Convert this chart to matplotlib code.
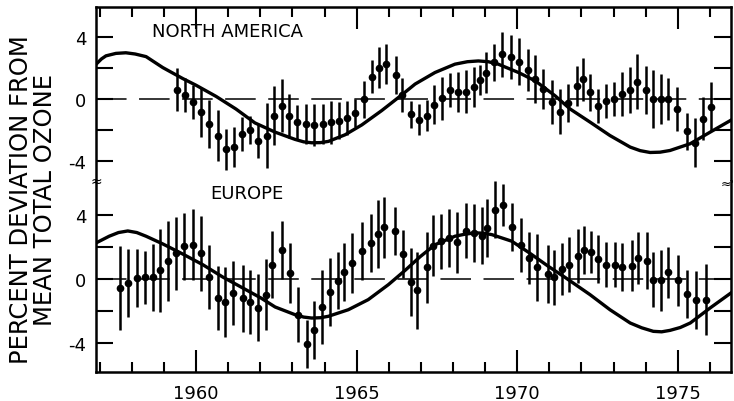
import matplotlib
matplotlib.use('Agg')
import matplotlib.pyplot as plt
from matplotlib.ticker import MultipleLocator

# ---- values ----
# North America: quarterly means with error bars
na_years = [1959.39, 1959.66, 1959.90, 1960.15, 1960.41, 1960.69, 1960.93, 1961.19,
            1961.42, 1961.68, 1961.92, 1962.20, 1962.43, 1962.67, 1962.89, 1963.15,
            1963.41, 1963.67, 1963.94, 1964.19, 1964.44, 1964.71, 1964.95, 1965.24,
            1965.47, 1965.70, 1965.90, 1966.22, 1966.40, 1966.68, 1966.93, 1967.18,
            1967.42, 1967.67, 1967.91, 1968.15, 1968.40, 1968.66, 1968.84, 1969.03,
            1969.28, 1969.54, 1969.80, 1970.06, 1970.33, 1970.56, 1970.81, 1971.09,
            1971.33, 1971.59, 1971.85, 1972.04, 1972.27, 1972.51, 1972.77, 1973.02,
            1973.26, 1973.52, 1973.72, 1974.01, 1974.24, 1974.47, 1974.71, 1974.99,
            1975.28, 1975.54, 1975.78, 1976.04]
na_dev = [0.6, 0.26, -0.17, -0.86, -1.6, -2.37, -3.27, -3.1,
          -2.26, -2.0, -2.75, -2.37, -1.08, -0.43, -1.1, -1.5,
          -1.65, -1.68, -1.6, -1.5, -1.42, -1.25, -0.92, 0.0,
          1.46, 2.04, 2.3, 1.55, 0.26, -1.0, -1.35, -1.08,
          -0.37, 0.04, 0.58, 0.43, 0.47, 0.75, 1.23, 1.72,
          2.37, 2.9, 2.73, 2.43, 1.9, 1.29, 0.65, -0.2,
          -0.82, -0.26, 0.86, 1.29, 0.43, -0.47, -0.15, 0.0,
          0.32, 0.6, 1.12, 0.6, 0.0, 0.0, 0.0, -0.65,
          -2.1, -2.84, -1.29, -0.5]
na_err = [1.4, 1.1, 1.1, 1.6, 1.55, 1.65, 1.35, 1.3,
          1.1, 0.9, 1.1, 2.1, 1.9, 1.7, 1.4, 1.1,
          1.3, 1.35, 1.3, 1.4, 1.2, 1.1, 0.9, 1.2,
          1.1, 1.35, 1.3, 1.25, 1.1, 0.9, 1.0, 1.0,
          1.25, 1.4, 1.1, 1.3, 1.4, 1.3, 1.0, 1.3,
          1.2, 1.45, 1.4, 1.55, 1.35, 1.55, 1.3, 1.45,
          1.45, 1.25, 1.3, 1.4, 1.2, 1.1, 1.1, 1.1,
          1.45, 1.5, 1.8, 1.55, 1.9, 1.6, 1.35, 1.4,
          1.2, 1.6, 1.4, 1.6]
na_fit_years = [1956.88, 1957.05, 1957.19, 1957.50, 1957.81, 1958.10, 1958.44, 1958.96,
                1959.58, 1959.99, 1960.62, 1961.24, 1961.83, 1962.46, 1963.08, 1963.35,
                1963.60, 1963.87, 1964.12, 1964.64, 1965.16, 1965.78, 1966.40, 1966.82,
                1967.44, 1968.06, 1968.45, 1968.79, 1969.10, 1969.41, 1970.04, 1970.56,
                1971.18, 1971.65, 1972.27, 1972.89, 1973.52, 1973.83, 1974.14, 1974.45,
                1974.76, 1975.39, 1976.01, 1976.73]
na_fit = [2.25, 2.6, 2.8, 2.96, 3.0, 2.92, 2.75, 2.04,
          1.33, 0.9, 0.17, -0.65, -1.55, -2.15, -2.62, -2.78,
          -2.84, -2.83, -2.75, -2.32, -1.68, -0.75, 0.26, 0.97,
          1.72, 2.26, 2.42, 2.47, 2.42, 2.26, 1.72, 1.18,
          0.21, -0.65, -1.5, -2.37, -3.12, -3.35, -3.47, -3.45,
          -3.34, -2.9, -2.15, -1.29]

# Europe
eu_years = [1957.63, 1957.88, 1958.15, 1958.41, 1958.67, 1958.88, 1959.13, 1959.37,
            1959.63, 1959.89, 1960.15, 1960.41, 1960.67, 1960.91, 1961.16, 1961.45,
            1961.68, 1961.94, 1962.18, 1962.37, 1962.67, 1962.91, 1963.18, 1963.44,
            1963.68, 1963.93, 1964.17, 1964.43, 1964.62, 1964.85, 1965.18, 1965.44,
            1965.66, 1965.86, 1966.19, 1966.43, 1966.69, 1966.87, 1967.20, 1967.39,
            1967.63, 1967.89, 1968.14, 1968.40, 1968.67, 1968.90, 1969.07, 1969.31,
            1969.57, 1969.85, 1970.11, 1970.37, 1970.63, 1970.95, 1971.16, 1971.39,
            1971.62, 1971.89, 1972.08, 1972.29, 1972.53, 1972.77, 1973.05, 1973.28,
            1973.57, 1973.77, 1974.04, 1974.24, 1974.47, 1974.71, 1975.02, 1975.28,
            1975.57, 1975.87]
eu_dev = [-0.56, -0.25, 0.06, 0.1, 0.1, 0.54, 1.14, 1.6,
          2.04, 2.14, 1.6, 0.1, -1.2, -1.44, -0.9, -1.2,
          -1.44, -1.8, -0.98, 0.9, 1.83, 0.37, -2.23, -4.04,
          -3.17, -1.77, -0.81, -0.1, 0.42, 1.0, 1.73, 2.25,
          2.81, 3.23, 2.98, 1.58, -0.19, -0.7, 0.73, 2.08,
          2.35, 2.56, 2.29, 3.02, 2.88, 2.71, 3.19, 4.33,
          4.64, 3.23, 2.14, 1.31, 0.73, 0.31, 0.1, 0.63,
          0.9, 1.42, 1.83, 1.67, 1.25, 0.9, 0.9, 0.73,
          0.83, 1.31, 1.15, -0.04, -0.08, 0.42, -0.08, -0.92,
          -1.33, -1.29]
eu_err = [2.6, 2.1, 1.8, 1.65, 2.1, 2.6, 2.5, 2.3,
          2.1, 2.2, 2.35, 2.0, 2.0, 2.2, 2.0, 2.1,
          2.0, 2.1, 2.2, 2.1, 1.8, 1.9, 1.7, 1.5,
          1.8, 2.3, 2.1, 1.8, 1.8, 1.9, 1.8, 1.8,
          2.1, 1.9, 1.5, 1.5, 2.1, 2.4, 2.2, 1.9,
          1.7, 1.8, 1.9, 1.7, 1.8, 1.8, 1.8, 1.8,
          1.3, 1.5, 1.7, 1.6, 2.1, 1.8, 1.7, 1.6,
          1.7, 1.7, 1.5, 1.3, 1.5, 1.4, 1.4, 1.5,
          1.6, 1.6, 1.8, 1.7, 1.9, 1.6, 1.6, 1.5,
          1.8, 2.2]
eu_fit_years = [1956.88, 1957.29, 1957.58, 1957.87, 1958.15, 1958.44, 1958.96, 1959.58,
                1960.20, 1960.83, 1961.45, 1962.02, 1962.46, 1963.08, 1963.35, 1963.60,
                1963.87, 1964.12, 1964.74, 1965.36, 1965.99, 1966.51, 1966.97, 1967.44,
                1968.06, 1968.38, 1968.69, 1968.95, 1969.21, 1969.83, 1970.35, 1970.97,
                1971.49, 1972.27, 1972.89, 1973.52, 1973.88, 1974.24, 1974.50, 1974.76,
                1975.08, 1975.39, 1976.01, 1976.73]
eu_fit = [2.25, 2.67, 2.9, 3.0, 2.9, 2.67, 2.19, 1.56,
          0.9, 0.12, -0.56, -1.19, -1.75, -2.23, -2.38, -2.44,
          -2.42, -2.33, -1.92, -1.29, -0.35, 0.54, 1.38, 2.14,
          2.67, 2.8, 2.88, 2.86, 2.77, 2.36, 1.67, 0.79,
          0.1, -0.98, -1.92, -2.75, -3.05, -3.27, -3.3, -3.21,
          -3.03, -2.75, -1.81, -0.77]

year_ticks = [1960, 1965, 1970, 1975]
dev_ticks = [-4, -2, 0, 2, 4]
dev_labels = ['-4', '', '0', '', '4']

plt.rcParams['font.family'] = ['DejaVu Sans']
plt.rcParams['lines.scale_dashes'] = False

W, H = 734, 402
fig = plt.figure(figsize=(W / 100, H / 100), dpi=100)

# two stacked panels sharing one frame (pixel layout of the scan)
ax_na = fig.add_axes([96 / W, 1 - 182 / H, 635 / W, 174 / H])
ax_eu = fig.add_axes([96 / W, 1 - 373 / H, 635 / W, 191 / H])

panels = [
    (ax_na, na_years, na_dev, na_err, na_fit_years, na_fit, (-5.32, 5.97)),
    (ax_eu, eu_years, eu_dev, eu_err, eu_fit_years, eu_fit, (-5.81, 6.12)),
]

for ax, yrs, dev, err, fyrs, fit, ylim in panels:
    ax.axhline(0, color='black', lw=1.1, dashes=(22, 9), zorder=1)
    ax.errorbar(yrs, dev, yerr=err, fmt='o', color='black', ms=4.5,
                elinewidth=1.8, capsize=0, zorder=3)
    ax.plot(fyrs, fit, color='black', lw=2.4, solid_joinstyle='round',
            solid_capstyle='round', zorder=2)
    ax.set_xlim(1956.88, 1976.66)
    ax.set_ylim(*ylim)
    ax.set_yticks(dev_ticks)
    ax.set_yticklabels(dev_labels)
    ax.xaxis.set_major_locator(plt.FixedLocator(year_ticks))
    ax.xaxis.set_minor_locator(MultipleLocator(1))
    ax.tick_params(axis='y', direction='in', length=12, width=1.5,
                   left=True, right=True, labelsize=13, pad=7)
    ax.tick_params(axis='x', which='major', direction='in', length=16, width=1.5)
    ax.tick_params(axis='x', which='minor', direction='in', length=7, width=1.5)
    for s in ax.spines.values():
        s.set_linewidth(1.8)

ax_na.spines['bottom'].set_visible(False)
ax_na.tick_params(axis='x', which='both', top=True, bottom=False, labelbottom=False)
ax_eu.spines['top'].set_visible(False)
ax_eu.tick_params(axis='x', which='both', top=False, bottom=True, labelsize=13, pad=9)
ax_eu.set_xticklabels([str(y) for y in year_ticks])

ax_na.text(1958.62, 4.39, 'NORTH AMERICA', fontsize=13, ha='left', va='center')
ax_eu.text(1960.43, 5.4, 'EUROPE', fontsize=13, ha='left', va='center')

# axis break marks on the frame
fig.text(96 / W, 1 - 182 / H, '≈', fontsize=10, ha='center', va='center')
fig.text(726 / W, 1 - 184 / H, '≈', fontsize=9, ha='center', va='center')

fig.text(33.5 / W, 1 - 200 / H, 'PERCENT DEVIATION FROM\nMEAN TOTAL OZONE',
         rotation=90, ha='center', va='center', multialignment='center',
         fontsize=17.5, linespacing=1.0)

fig.savefig('out.png', dpi=100)
